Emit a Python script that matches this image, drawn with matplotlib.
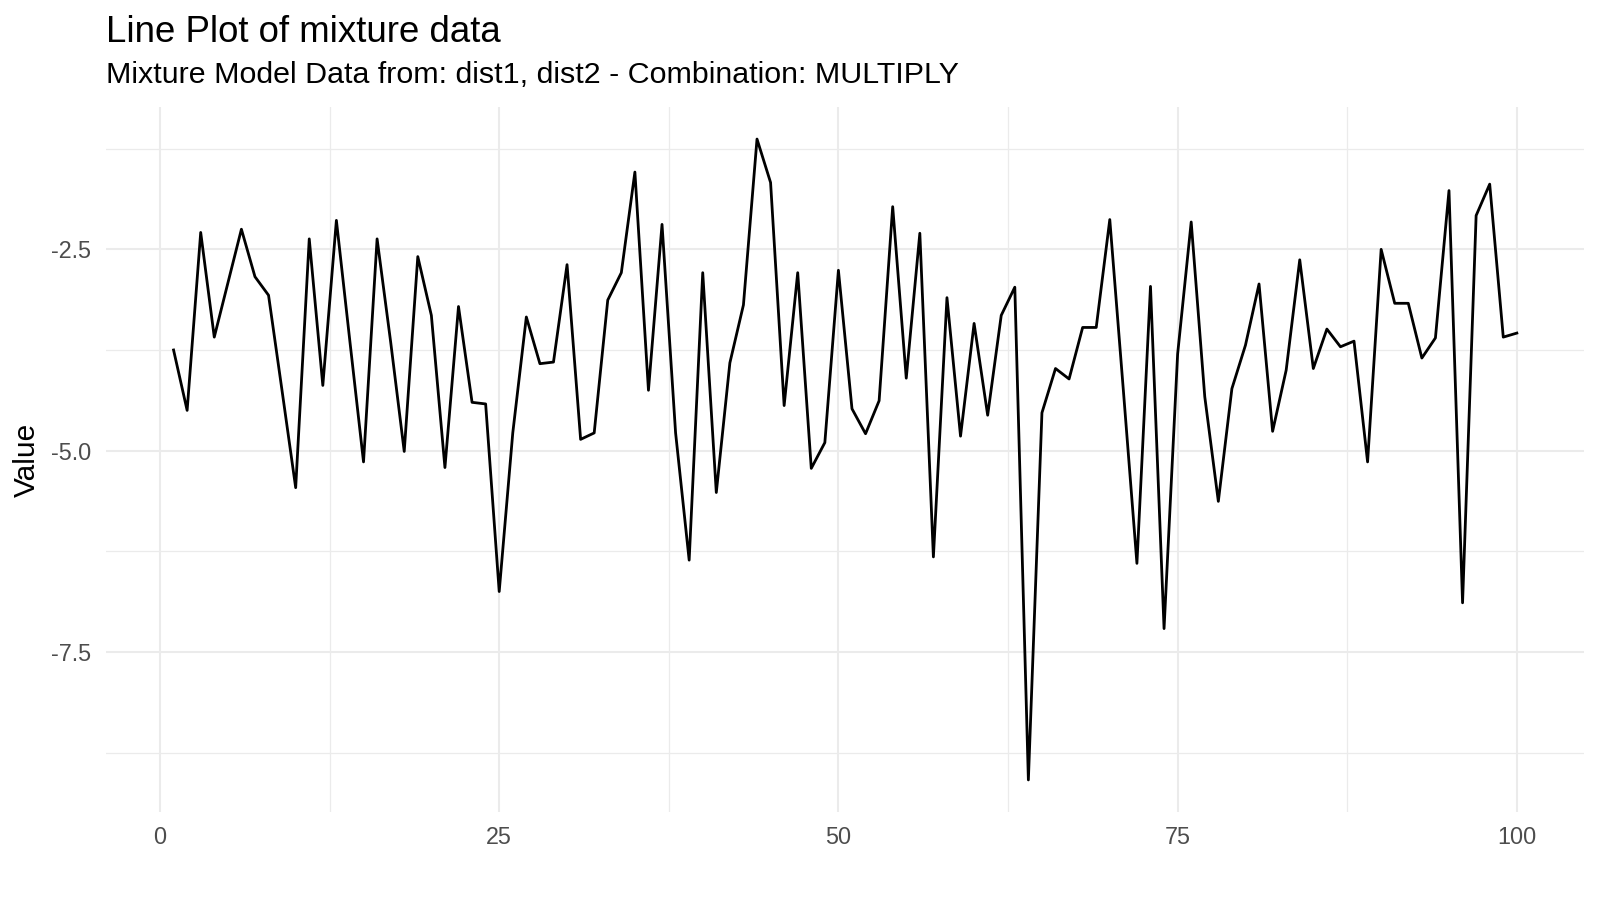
import matplotlib
matplotlib.use("Agg")
import matplotlib.pyplot as plt
from matplotlib.ticker import MultipleLocator

# data
index = list(range(1, 101))
values = [
    -3.75, -4.50, -2.29, -3.59, -2.92, -2.25, -2.84, -3.07, -4.26, -5.46,
    -2.37, -4.19, -2.14, -3.65, -5.14, -2.37, -3.65, -5.01, -2.59, -3.32,
    -5.21, -3.21, -4.40, -4.42, -6.75, -4.78, -3.34, -3.92, -3.90, -2.69,
    -4.86, -4.78, -3.13, -2.79, -1.54, -4.25, -2.19, -4.78, -6.36, -2.79,
    -5.52, -3.91, -3.19, -1.13, -1.67, -4.44, -2.79, -5.22, -4.90, -2.76,
    -4.48, -4.79, -4.38, -1.97, -4.10, -2.30, -6.32, -3.10, -4.82, -3.42,
    -4.56, -3.32, -2.97, -9.09, -4.53, -3.98, -4.11, -3.47, -3.47, -2.13,
    -4.25, -6.40, -2.96, -7.21, -3.80, -2.16, -4.33, -5.63, -4.23, -3.69,
    -2.93, -4.76, -4.00, -2.63, -3.98, -3.49, -3.71, -3.64, -5.14, -2.50,
    -3.17, -3.17, -3.85, -3.60, -1.77, -6.89, -2.08, -1.69, -3.59, -3.54,
]
x_ticks = [0, 25, 50, 75, 100]
y_ticks = [-7.5, -5.0, -2.5]

title = "Line Plot of mixture data"
subtitle = "Mixture Model Data from: dist1, dist2 - Combination: MULTIPLY"

plt.rcParams["font.family"] = ["Liberation Sans", "DejaVu Sans"]

fig = plt.figure(figsize=(16, 9), dpi=100)
ax = fig.add_axes([0.0665, 0.0978, 0.9235, 0.7833])

ax.plot(index, values, color="black", linewidth=2.0)

# ggplot-like 5% expansion
xr = max(index) - min(index)
yr = max(values) - min(values)
ax.set_xlim(min(index) - 0.05 * xr, max(index) + 0.05 * xr)
ax.set_ylim(min(values) - 0.05 * yr, max(values) + 0.05 * yr)

ax.set_xticks(x_ticks)
ax.set_xticklabels([str(t) for t in x_ticks])
ax.set_yticks(y_ticks)
ax.set_yticklabels([f"{t:.1f}" for t in y_ticks])
ax.xaxis.set_minor_locator(MultipleLocator(12.5))
ax.yaxis.set_minor_locator(MultipleLocator(1.25))

ax.grid(which="major", color="#EBEBEB", linewidth=1.5)
ax.grid(which="minor", color="#EBEBEB", linewidth=0.9)
ax.set_axisbelow(True)
for s in ax.spines.values():
    s.set_visible(False)

ax.tick_params(which="both", length=0)
ax.tick_params(axis="x", labelsize=16.8, labelcolor="#4D4D4D", pad=10)
ax.tick_params(axis="y", labelsize=16.8, labelcolor="#4D4D4D", pad=11)

ax.set_ylabel("Value", fontsize=21.5, color="black", labelpad=7)

fig.text(0.0665, 0.9537, title, fontsize=26.4, ha="left", va="baseline")
fig.text(0.0665, 0.9074, subtitle, fontsize=21.9, ha="left", va="baseline")

fig.savefig("out.png", dpi=100, facecolor="white")
